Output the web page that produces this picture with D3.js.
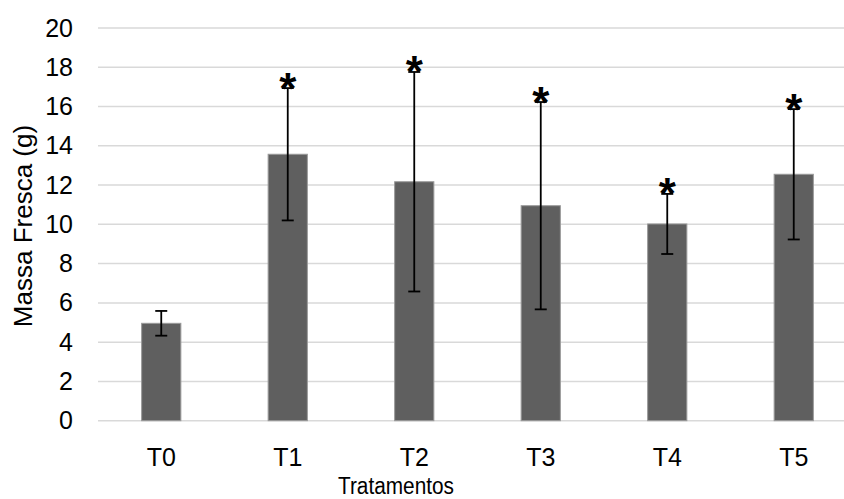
<!DOCTYPE html>
<html>
<head>
<meta charset="utf-8">
<script src="https://cdn.jsdelivr.net/npm/d3@7"></script>
<style>
  html, body { margin: 0; padding: 0; background: #fff; }
  svg { display: block; font-family: "Liberation Sans", Arial, sans-serif; }
</style>
</head>
<body>
<svg id="chart" width="844" height="499"></svg>
<script>
const categories = ["T0", "T1", "T2", "T3", "T4", "T5"];
const values = [4.96, 13.57, 12.17, 10.95, 10.02, 12.55];
const errors = [0.63, 3.37, 5.59, 5.28, 1.53, 3.32];
const marks = ["", "*", "*", "*", "*", "*"];
const yTicks = [0, 2, 4, 6, 8, 10, 12, 14, 16, 18, 20];
const yTitle = "Massa Fresca (g)";
const xTitle = "Tratamentos";

const svg = d3.select("#chart");
const x = d3.scaleBand().domain(categories).range([98, 857]).paddingInner(0.69).paddingOuter(0.345);
const y = d3.scaleLinear().domain([0, 20]).range([420.7, 28]);

// gridlines
svg.append("g").selectAll("line").data(yTicks).join("line")
  .attr("x1", 98).attr("x2", 857)
  .attr("y1", d => y(d)).attr("y2", d => y(d))
  .attr("stroke", "#d9d9d9").attr("stroke-width", 1.5);

// y axis labels
const yAxis = d3.axisLeft(y).tickValues(yTicks).tickSize(0).tickPadding(0);
const gy = svg.append("g").attr("transform", "translate(73,0)").call(yAxis);
gy.select(".domain").remove();
gy.selectAll("text").attr("font-size", 25).attr("fill", "#000").attr("font-family", "Liberation Sans, Arial, sans-serif");

// x axis labels
const xAxis = d3.axisBottom(x).tickSize(0).tickPadding(0);
const gx = svg.append("g").attr("transform", "translate(0,448)").call(xAxis);
gx.select(".domain").remove();
gx.selectAll("text").attr("font-size", 25).attr("fill", "#000").attr("font-family", "Liberation Sans, Arial, sans-serif");

const data = categories.map((c, i) => ({c, v: values[i], e: errors[i], m: marks[i]}));

// bars
svg.append("g").selectAll("rect").data(data).join("rect")
  .attr("x", d => x(d.c)).attr("width", x.bandwidth())
  .attr("y", d => y(d.v)).attr("height", d => y(0) - y(d.v))
  .attr("fill", "#5f5f5f").attr("stroke", "#9a9a9a").attr("stroke-width", 1);

// error bars
const eb = svg.append("g").attr("stroke", "#000").attr("stroke-width", 1.8);
const cx = d => x(d.c) + x.bandwidth() / 2;
eb.selectAll("line.v").data(data).join("line").attr("class", "v")
  .attr("x1", cx).attr("x2", cx)
  .attr("y1", d => y(d.v + d.e)).attr("y2", d => y(d.v - d.e));
eb.selectAll("line.t").data(data).join("line").attr("class", "t")
  .attr("x1", d => cx(d) - 6).attr("x2", d => cx(d) + 6)
  .attr("y1", d => y(d.v + d.e)).attr("y2", d => y(d.v + d.e));
eb.selectAll("line.b").data(data).join("line").attr("class", "b")
  .attr("x1", d => cx(d) - 6).attr("x2", d => cx(d) + 6)
  .attr("y1", d => y(d.v - d.e)).attr("y2", d => y(d.v - d.e));

// significance marks
svg.append("g").selectAll("text").data(data).join("text")
  .attr("x", cx).attr("y", d => y(d.v + d.e) + 15.5)
  .attr("text-anchor", "middle")
  .attr("font-size", 44).attr("font-weight", "bold").attr("fill", "#000")
  .text(d => d.m);

// axis titles
svg.append("text").attr("x", 396).attr("y", 494).attr("text-anchor", "middle")
  .attr("font-size", 23).attr("textLength", 116).attr("lengthAdjust", "spacingAndGlyphs")
  .attr("fill", "#000").text(xTitle);
svg.append("text").attr("transform", "translate(32,226) rotate(-90)").attr("text-anchor", "middle")
  .attr("font-size", 26).attr("fill", "#000").text(yTitle);
</script>
</body>
</html>
